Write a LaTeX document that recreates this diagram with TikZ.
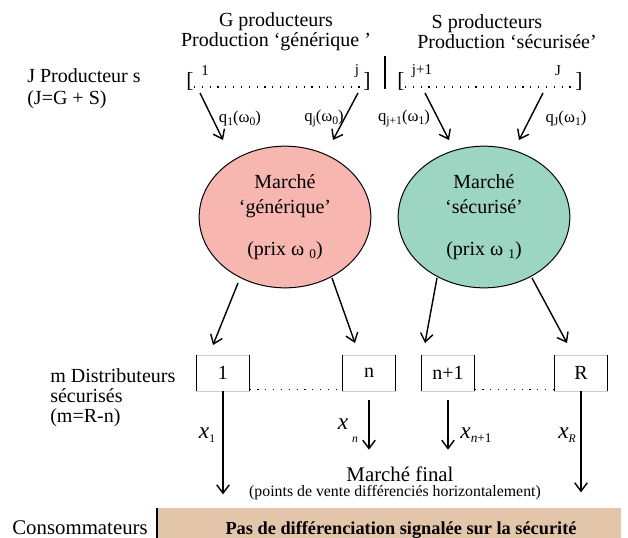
\documentclass[tikz,border=0pt]{standalone}
\usepackage{fontspec}
\setmainfont{LiberationSerif}[Extension=.ttf, UprightFont=*-Regular, BoldFont=*-Bold, ItalicFont=*-Italic, BoldItalicFont=*-BoldItalic]
\usepackage{xcolor}
\usetikzlibrary{arrows.meta,shapes.geometric,positioning,calc}

\definecolor{genpink}{RGB}{247,182,175}
\definecolor{secgreen}{RGB}{156,213,194}
\definecolor{constan}{RGB}{227,197,170}
\newcommand{\lowidx}[1]{\raisebox{-0.4ex}{\scriptsize #1}}
\newcommand{\lowprix}[1]{\raisebox{-0.4ex}{\footnotesize #1}}

\begin{document}
\begin{tikzpicture}[
    x=0.6pt, y=-0.6pt,
    every node/.style={inner sep=0pt},
    market/.style={ellipse, draw, line width=0.6pt, minimum width=103pt, minimum height=85pt, align=center, font=\fontsize{12}{15}\selectfont},
    distbox/.style={rectangle, draw=black!20, line width=0.4pt, minimum width=31.5pt, minimum height=21.6pt, font=\fontsize{12}{14}\selectfont},
    side/.style={line width=0.8pt},
    dotline/.style={line width=0.7pt, dash pattern=on 0.7pt off 4pt},
    arrow/.style={-{Straight Barb[length=5pt,width=7.5pt]}, line width=0.85pt},
    qlabel/.style={font=\fontsize{10}{12}\selectfont},
    idx/.style={font=\fontsize{9}{10}\selectfont},
    txt/.style={align=left, font=\fontsize{12}{13.2}\selectfont},
    xlabel/.style={font=\fontsize{14}{14}\selectfont}
]
\useasboundingbox (0,0) rectangle (628,538);

% Draw producers
\node[align=center, font=\fontsize{12}{12}\selectfont] (ghead) at (276,32) {G producteurs\\Production ‘générique ’};
\node[align=center, font=\fontsize{12}{12}\selectfont] (shead) at (507,32) {S producteurs\hspace*{2em}\\Production ‘sécurisée’};
\node[txt, anchor=west] (jprod) at (27,89) {J Producteur s\\(J=G + S)};

\node[font=\fontsize{13}{13}\selectfont] (glb) at (190,81) {[};
\node[font=\fontsize{13}{13}\selectfont] (grb) at (367,81) {]};
\node[idx] (g1) at (205,71) {1};
\node[idx] (gj) at (357,71) {j};
\node[font=\fontsize{13}{13}\selectfont] (slb) at (401,81) {[};
\node[font=\fontsize{13}{13}\selectfont] (srb) at (579,81) {]};
\node[idx] (sj1) at (422,71) {j+1};
\node[idx] (sJ) at (558,71) {J};
\draw[dotline] (glb.base east) -- (grb.base west);
\draw[dotline] (slb.base east) -- (srb.base west);
\draw[line width=1.6pt] (385,56) -- (385,89);

\node[qlabel] (q1) at (240,118) {q\lowidx{1}(ω\lowidx{0})};
\node[qlabel] (qj) at (324,118) {q\lowidx{j}(ω\lowidx{0})};
\node[qlabel] (qj1) at (404,118) {q\lowidx{j+1}(ω\lowidx{1})};
\node[qlabel] (qJ) at (566,118) {q\lowidx{J}(ω\lowidx{1})};

% Draw markets
\node[market, fill=genpink] (gen) at (285,217) {Marché\\‘générique’\\[10pt](prix ω \lowprix{0})};
\node[market, fill=secgreen] (sec) at (484,217) {Marché\\‘sécurisé’\\[10pt](prix ω \lowprix{1})};

% Draw distributors
\node[txt, anchor=west, font=\fontsize{12}{12}\selectfont] (mdist) at (50,398) {m Distributeurs\\sécurisés\\(m=R-n)};
\node[distbox] (d1) at (223,373) {1};
\node[distbox] (dn) at (369,373) {n};
\node[distbox] (dn1) at (448,373) {n+1};
\node[distbox] (dR) at (581,373) {R};
\foreach \b in {d1,dn,dn1,dR}
    \draw[side] (\b.north west) -- (\b.south west) (\b.north east) -- (\b.south east);
\draw[dotline] ([yshift=1pt]d1.south east) -- ([yshift=1pt]dn.south west);
\draw[dotline] ([yshift=1pt]dn1.south east) -- ([yshift=1pt]dR.south west);

\node[xlabel] (x1) at (207,435) {\textit{x}\lowidx{1}};
\node[xlabel] (xn) at (348,431) {\textit{x}\,\raisebox{-1.2ex}{\scriptsize\textit{n}}};
\node[xlabel] (xn1) at (476,435) {\textit{x}\raisebox{-0.4ex}{\footnotesize\textit{n}+1}};
\node[xlabel] (xR) at (567,435) {\textit{x}\raisebox{-0.4ex}{\scriptsize\textit{R}}};

% Draw final market
\node[font=\fontsize{12.5}{13}\selectfont] (final) at (400,474) {Marché final};
\node[font=\fontsize{9.5}{10}\selectfont] (finalsub) at (395,493) {(points de vente différenciés horizontalement)};
\node[font=\fontsize{12.5}{13}\selectfont] (cons) at (80,528) {Consommateurs};
\node[rectangle, fill=constan, minimum width=278.4pt, minimum height=18pt, anchor=north west] (consbox) at (157,508) {};
\draw[side] (consbox.north west) -- (consbox.south west);
\node[font=\bfseries\fontsize{11}{12}\selectfont] (nodiff) at (401,530) {Pas de différenciation signalée sur la sécurité};

% Arrow ends
\coordinate (ta) at (200,93);  \coordinate (ha) at (223,140);
\coordinate (tb) at (358,93);  \coordinate (hb) at (333,140);
\coordinate (tc) at (425,93);  \coordinate (hc) at (449,140);
\coordinate (td) at (543,93);  \coordinate (hd) at (519,140);
\coordinate (te) at (238,283); \coordinate (he) at (213,345);
\coordinate (tf) at (332,278); \coordinate (hf) at (355,343);
\coordinate (tg) at (437,278); \coordinate (hg) at (425,343);
\coordinate (th) at (532,278); \coordinate (hh) at (567,343);

% Draw arrows
\draw[arrow] (ta) -- (ha);
\draw[arrow] (tb) -- (hb);
\draw[arrow] (tc) -- (hc);
\draw[arrow] (td) -- (hd);
\draw[arrow] (te) -- (he);
\draw[arrow] (tf) -- (hf);
\draw[arrow] (tg) -- (hg);
\draw[arrow] (th) -- (hh);
\draw[arrow] (d1.south) -- ++(0,103);
\draw[arrow] ([yshift=-5pt]dn.south) -- ++(0,50);
\draw[arrow] ([yshift=-5pt]dn1.south) -- ++(0,50);
\draw[arrow] (dR.south) -- ++(0,101);

\end{tikzpicture}
\end{document}
